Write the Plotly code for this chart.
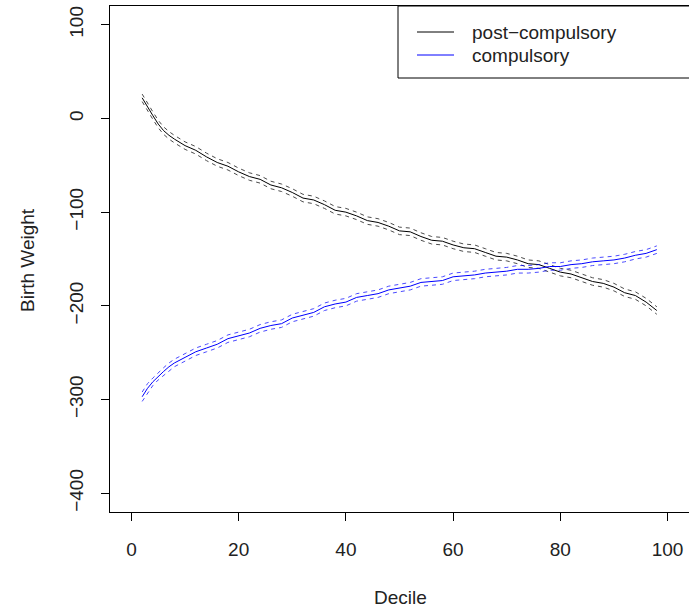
import plotly.graph_objects as go

decile = [2, 3, 4, 5, 6, 7, 8, 10, 12, 14, 16, 18, 20, 22, 24, 26, 28, 30, 32, 34, 36, 38,
          40, 42, 44, 46, 48, 50, 52, 54, 56, 58, 60, 62, 64, 66, 68, 70, 72, 74, 76, 78,
          80, 82, 84, 86, 88, 90, 92, 94, 96, 98]

post_compulsory = [22, 12, 3, -6, -13, -18, -22, -29, -34, -41, -47, -51, -57, -62, -65,
                   -71, -74, -79, -85, -87, -92, -98, -100, -104, -109, -111, -115, -120,
                   -121, -126, -130, -131, -135, -138, -139, -143, -147, -148, -151, -155,
                   -156, -160, -164, -166, -170, -174, -176, -180, -186, -189, -196, -205]
post_ci = [4, 4, 4, 4, 4, 4, 4, 4, 4, 4, 4, 4, 4, 4, 4, 4, 4, 4, 4, 4, 4, 4, 4, 4, 4, 4,
           4, 4, 4, 4, 4, 4, 4, 4, 4, 4, 4, 4, 4, 4, 4, 4, 4, 4, 4, 4, 4, 4, 4, 4, 4, 4]

compulsory = [-297, -288, -281, -275, -270, -265, -261, -255, -249, -245, -241, -235, -232,
              -229, -224, -221, -219, -213, -210, -207, -201, -198, -196, -191, -189, -187,
              -183, -181, -179, -175, -174, -173, -169, -168, -167, -165, -164, -163, -161,
              -161, -160, -158, -158, -156, -155, -153, -152, -151, -149, -146, -144, -140]
comp_ci = [5, 5, 4, 4, 4, 4, 4, 4, 4, 4, 4, 4, 4, 4, 4, 4, 4, 4, 4, 4, 4, 4, 4, 4, 4, 4,
           4, 4, 4, 4, 4, 4, 4, 4, 4, 4, 4, 4, 4, 4, 4, 4, 4, 4, 4, 4, 4, 4, 4, 4, 4, 4]

x_ticks = [0, 20, 40, 60, 80, 100]
y_ticks = [-400, -300, -200, -100, 0, 100]
legend_labels = ["post\u2212compulsory", "compulsory"]

series = [(post_compulsory, post_ci, "#000000"), (compulsory, comp_ci, "#0000FF")]

fig = go.Figure()
for vals, ci, col in series:
    up = [v + c for v, c in zip(vals, ci)]
    lo = [v - c for v, c in zip(vals, ci)]
    for band in (up, lo):
        fig.add_trace(go.Scatter(x=decile, y=band, mode="lines",
                                 line=dict(color=col, width=1, dash="4px,4px"),
                                 opacity=0.7, showlegend=False, hoverinfo="skip"))
    fig.add_trace(go.Scatter(x=decile, y=vals, mode="lines",
                             line=dict(color=col, width=1), showlegend=False))

L, T, R, B = 110, 6, 689, 512
W, H = R - L, B - T


def px(x):
    return (x - L) / W


def py(y):
    return (B - y) / H


font = dict(family="Liberation Sans, Arial, sans-serif", size=19, color="#222222")

shapes = [dict(type="rect", xref="paper", yref="paper", x0=px(398), x1=px(720),
               y0=py(78), y1=py(T), line=dict(color="black", width=1),
               fillcolor="white", layer="above")]
annotations = []
for i, (lab, (_, _, col)) in enumerate(zip(legend_labels, series)):
    yy = 32 + 23 * i
    shapes.append(dict(type="line", xref="paper", yref="paper", x0=px(417), x1=px(454),
                       y0=py(yy), y1=py(yy), line=dict(color=col, width=1), layer="above"))
    annotations.append(dict(text=lab, xref="paper", yref="paper", x=px(470), y=py(yy),
                            xanchor="left", yanchor="middle", showarrow=False, font=font))

annotations.append(dict(text="Birth Weight", xref="paper", yref="paper", x=px(27), y=py(260),
                        textangle=-90, xanchor="center", yanchor="middle", showarrow=False,
                        font=font))
annotations.append(dict(text="Decile", xref="paper", yref="paper", x=px(400), y=py(597),
                        xanchor="center", yanchor="middle", showarrow=False, font=font))

fig.update_layout(
    width=689, height=611,
    margin=dict(l=L, r=0, t=T, b=611 - B, pad=0),
    paper_bgcolor="white", plot_bgcolor="white",
    showlegend=False,
    shapes=shapes, annotations=annotations,
    xaxis=dict(range=[-4, 104], tickmode="array", tickvals=x_ticks,
               ticktext=[str(v) for v in x_ticks], ticks="outside", ticklen=8,
               tickcolor="black", showline=True, linecolor="black", linewidth=1,
               mirror=True, showgrid=False, zeroline=False, tickfont=font,
               ticklabelstandoff=12),
    yaxis=dict(range=[-420, 120], tickmode="array", tickvals=y_ticks,
               ticktext=[("\u2212" + str(-v)) if v < 0 else str(v) for v in y_ticks],
               ticks="outside", ticklen=8, tickcolor="black", tickangle=-90,
               showline=True, linecolor="black", linewidth=1, mirror=True,
               showgrid=False, zeroline=False, tickfont=font, ticklabelstandoff=10),
)

fig.write_html("out.html", config={"displayModeBar": False},
               post_script="document.body.style.margin='0px';")
